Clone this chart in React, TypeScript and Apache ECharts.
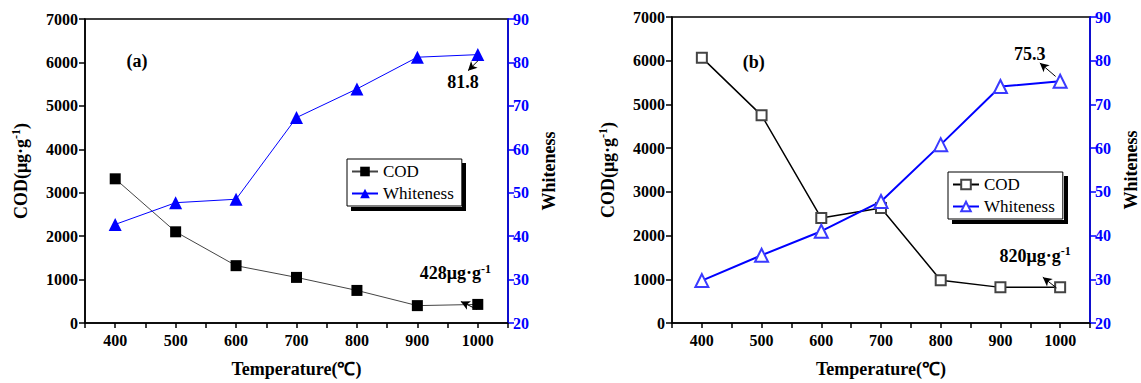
import React, { useEffect, useRef } from "react";
import * as echarts from "echarts";

const temps = [400, 500, 600, 700, 800, 900, 1000];
const codA = [3320, 2100, 1320, 1050, 750, 400, 428];
const whiteA = [42.7, 47.7, 48.5, 67.3, 73.9, 81.2, 81.8];
const codB = [6070, 4750, 2400, 2630, 980, 815, 820];
const whiteB = [29.7, 35.5, 41.0, 47.8, 60.8, 74.1, 75.3];
const xTicks = [400, 500, 600, 700, 800, 900, 1000];

const FONT = "Liberation Serif";
const BLUE = "#0000ff";

const pair = (ys: number[]) => temps.map((t, i) => [t, ys[i]]);

function textPoint(x: number, y: number, txt: string) {
  return {
    coord: [x, y],
    symbol: "circle",
    symbolSize: 0,
    label: {
      show: true,
      position: "inside",
      formatter: txt,
      color: "#000",
      fontFamily: FONT,
      fontWeight: "bold",
      fontSize: 18,
      rich: {
        b: { fontFamily: FONT, fontWeight: "bold", fontSize: 18, color: "#000" },
        sup: { fontFamily: FONT, fontWeight: "bold", fontSize: 12, color: "#000", verticalAlign: "top", padding: [0, 0, 9, 0] },
      },
    },
  };
}

function arrow(x1: number, y1: number, x2: number, y2: number) {
  return [{ coord: [x1, y1] }, { coord: [x2, y2] }];
}

function xAxisCfg(gi: number) {
  return {
    type: "value",
    gridIndex: gi,
    min: 350,
    max: 1050,
    interval: 50,
    axisLine: { show: true, lineStyle: { color: "#000", width: 1.5 } },
    axisTick: { show: true, length: 5, lineStyle: { color: "#000", width: 1.5 } },
    axisLabel: {
      formatter: (v: number) => (xTicks.includes(v) ? String(v) : ""),
      color: "#000",
      fontFamily: FONT,
      fontWeight: "bold",
      fontSize: 16,
      margin: 9,
    },
    splitLine: { show: false },
    name: "Temperature(℃)",
    nameLocation: "middle",
    nameGap: 37,
    nameTextStyle: { color: "#000", fontFamily: FONT, fontWeight: "bold", fontSize: 18 },
  };
}

function leftY(gi: number) {
  return {
    type: "value",
    gridIndex: gi,
    position: "left",
    min: 0,
    max: 7000,
    interval: 1000,
    axisLine: { show: true, lineStyle: { color: "#000", width: 1.5 } },
    axisTick: { show: true, length: 6, lineStyle: { color: "#000", width: 1.5 } },
    axisLabel: { formatter: (v: number) => String(v), color: "#000", fontFamily: FONT, fontWeight: "bold", fontSize: 16, margin: 7 },
    splitLine: { show: false },
    name: "COD(μg·g{sup|-1})",
    nameLocation: "middle",
    nameRotate: 90,
    nameGap: 54,
    nameTextStyle: {
      color: "#000",
      fontFamily: FONT,
      fontWeight: "bold",
      fontSize: 18,
      rich: {
        sup: { fontFamily: FONT, fontWeight: "bold", fontSize: 12, color: "#000", verticalAlign: "top", padding: [0, 0, 9, 0] },
      },
    },
  };
}

function rightY(gi: number) {
  return {
    type: "value",
    gridIndex: gi,
    position: "right",
    min: 20,
    max: 90,
    interval: 10,
    axisLine: { show: true, lineStyle: { color: BLUE, width: 1.5 } },
    axisTick: { show: true, length: 6, lineStyle: { color: BLUE, width: 1.5 } },
    axisLabel: { color: BLUE, fontFamily: FONT, fontWeight: "bold", fontSize: 16, margin: 5 },
    splitLine: { show: false },
    name: "Whiteness",
    nameLocation: "middle",
    nameRotate: 90,
    nameGap: 32,
    nameTextStyle: { color: "#000", fontFamily: FONT, fontWeight: "bold", fontSize: 18 },
  };
}

function legendCfg(names: string[], left: number, top: number) {
  return {
    data: names,
    left,
    top,
    orient: "vertical",
    backgroundColor: "#fff",
    borderColor: "#000",
    borderWidth: 1,
    padding: [4, 8, 4, 4],
    itemGap: 5,
    itemWidth: 26,
    itemHeight: 12,
    selectedMode: false,
    formatter: (n: string) => n.split("_")[0],
    textStyle: { fontFamily: FONT, fontSize: 17, color: "#000" },
  };
}

const markLineBase = {
  silent: true,
  symbol: ["none", "arrow"],
  symbolSize: [7, 9],
  label: { show: false },
  lineStyle: { color: "#000", width: 1, type: "solid" },
};

export default function App() {
  const ref = useRef<HTMLDivElement>(null);
  useEffect(() => {
    if (!ref.current) return;
    const chart = echarts.init(ref.current, null, { renderer: "svg" });
    const option = {
      animation: false,
      grid: [
        { left: 85, right: 633, top: 19, bottom: 52, show: true, borderColor: "#000", borderWidth: 1.5 },
        { left: 672, right: 44, top: 17, bottom: 52, show: true, borderColor: "#000", borderWidth: 1.5 },
      ],
      graphic: [
        { type: "rect", z: 100, shape: { x: 462, y: 163, width: 4, height: 48 }, style: { fill: "#000" } },
        { type: "rect", z: 100, shape: { x: 351, y: 207, width: 115, height: 4 }, style: { fill: "#000" } },
        { type: "rect", z: 100, shape: { x: 1064, y: 176, width: 4, height: 48 }, style: { fill: "#000" } },
        { type: "rect", z: 100, shape: { x: 952, y: 220, width: 116, height: 4 }, style: { fill: "#000" } },
      ],
      xAxis: [xAxisCfg(0), xAxisCfg(1)],
      yAxis: [leftY(0), rightY(0), leftY(1), rightY(1)],
      legend: [legendCfg(["COD_a", "Whiteness_a"], 347, 159), legendCfg(["COD_b", "Whiteness_b"], 948, 172)],
      series: [
        {
          name: "COD_a",
          type: "line",
          xAxisIndex: 0,
          yAxisIndex: 0,
          data: pair(codA),
          symbol: "rect",
          symbolSize: 11,
          itemStyle: { color: "#000" },
          lineStyle: { color: "#444", width: 1 },
          markLine: { ...markLineBase, data: [arrow(998.7, 314, 972, 494)] },
          markPoint: {
            silent: true,
            data: [textPoint(436, 6036, "(a)"), textPoint(963, 1144, "{b|428μg·g}{sup|-1}")],
          },
        },
        {
          name: "Whiteness_a",
          type: "line",
          xAxisIndex: 0,
          yAxisIndex: 1,
          data: pair(whiteA),
          symbol: "triangle",
          symbolSize: 13,
          itemStyle: { color: BLUE },
          lineStyle: { color: BLUE, width: 1 },
          markLine: { ...markLineBase, data: [arrow(1000.4, 80.4, 983.8, 78.1)] },
          markPoint: { silent: true, data: [textPoint(975.5, 75.4, "81.8")] },
        },
        {
          name: "COD_b",
          type: "line",
          xAxisIndex: 1,
          yAxisIndex: 2,
          data: pair(codB),
          symbol: "emptyRect",
          symbolSize: 10,
          itemStyle: { color: "#444", borderWidth: 1 },
          lineStyle: { color: "#000", width: 1.5 },
          markLine: { ...markLineBase, data: [arrow(994, 802, 971, 1048)] },
          markPoint: {
            silent: true,
            data: [textPoint(487, 5974, "(b)"), textPoint(958, 1538, "{b|820μg·g}{sup|-1}")],
          },
        },
        {
          name: "Whiteness_b",
          type: "line",
          xAxisIndex: 1,
          yAxisIndex: 3,
          data: pair(whiteB),
          symbol: "emptyTriangle",
          symbolSize: 13,
          itemStyle: { color: "#3a3aff", borderWidth: 1 },
          lineStyle: { color: BLUE, width: 2 },
          markLine: { ...markLineBase, data: [arrow(992.4, 76.4, 966, 79.5)] },
          markPoint: { silent: true, data: [textPoint(949, 81.5, "75.3")] },
        },
      ],
    };
    chart.setOption(option as any);
    return () => chart.dispose();
  }, []);
  return <div ref={ref} style={{ position: "absolute", left: 0, top: 0, width: 1141, height: 383, background: "#fff" }} />;
}
